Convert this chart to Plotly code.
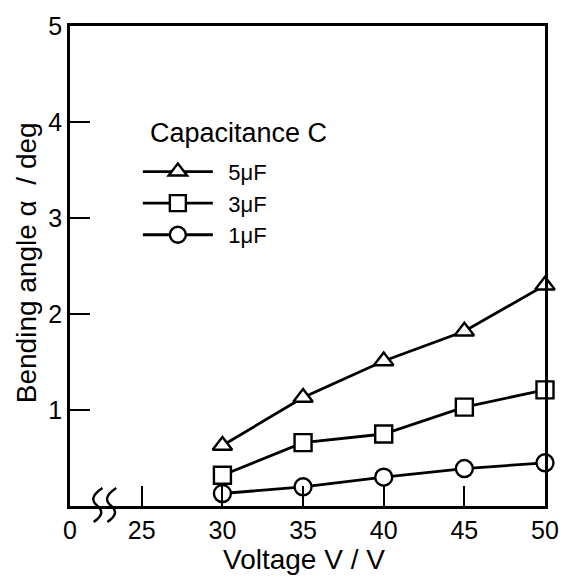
import plotly.graph_objects as go

# ---- data ----
voltage = [30, 35, 40, 45, 50]
series_names = ["5\u03bcF", "3\u03bcF", "1\u03bcF"]
angle_5uF = [0.63, 1.13, 1.51, 1.82, 2.30]
angle_3uF = [0.32, 0.66, 0.75, 1.03, 1.21]
angle_1uF = [0.13, 0.20, 0.30, 0.39, 0.45]
symbols = ["triangle-up", "square", "circle"]

x_break = 20.55  # axis position labelled "0" (broken axis)
x_tickvals = [x_break, 25, 30, 35, 40, 45, 50]
x_ticktext = ["0", "25", "30", "35", "40", "45", "50"]
y_tickvals = [1, 2, 3, 4, 5]
y_ticktext = ["1", "2", "3", "4", "5"]

W, H = 571, 578
ML, MR, MT, MB = 70, 18, 25, 72
PW, PH = W - ML - MR, H - MT - MB

def px(x):
    return (x - ML) / PW

def py(y):
    return (H - MB - y) / PH

FONT = "Liberation Sans, Arial, sans-serif"

fig = go.Figure()
for name, vals, sym in zip(series_names, [angle_5uF, angle_3uF, angle_1uF], symbols):
    fig.add_trace(go.Scatter(
        x=voltage, y=vals, name="\u00a0\u2009" + name, mode="lines+markers",
        line=dict(color="black", width=2.8),
        marker=dict(symbol=sym, size=17, color="white",
                    line=dict(color="black", width=2.4)),
        cliponaxis=False,
    ))

axis_common = dict(showline=True, linecolor="black", linewidth=2.6, mirror=True,
                   showgrid=False, zeroline=False, ticks="inside", ticklen=20,
                   tickwidth=2, tickcolor="black",
                   tickfont=dict(family=FONT, size=25, color="black"))

fig.update_layout(
    width=W, height=H,
    margin=dict(l=ML, r=MR, t=MT, b=MB),
    paper_bgcolor="white", plot_bgcolor="white",
    font=dict(family=FONT, color="black"),
    xaxis=dict(range=[x_break, 50], tickmode="array", tickvals=x_tickvals,
               ticktext=x_ticktext, **axis_common),
    yaxis=dict(range=[0, 5], tickmode="array", tickvals=y_tickvals,
               ticktext=y_ticktext, **axis_common),
    showlegend=True,
    legend=dict(x=px(139), y=py(150), xanchor="left", yanchor="top",
                bgcolor="rgba(0,0,0,0)", itemwidth=70,
                font=dict(family=FONT, size=22, color="black")),
)

# legend heading
fig.add_annotation(text="Capacitance C", xref="paper", yref="paper",
                   x=px(149), y=py(132), xanchor="left", yanchor="middle",
                   showarrow=False, font=dict(family=FONT, size=27, color="black"))

fig.add_annotation(text="Voltage V / V", xref="paper", yref="paper",
                   x=px(308), y=py(560), xanchor="center", yanchor="middle",
                   showarrow=False, font=dict(family=FONT, size=28, color="black"))
fig.add_annotation(text="Bending angle \u03b1  / deg", xref="paper", yref="paper",
                   x=px(26), y=py(262), xanchor="center", yanchor="middle",
                   textangle=-90, showarrow=False,
                   font=dict(family=FONT, size=28, color="black"))

# axis-break squiggles
for dx in (0, 14):
    pts = [(103 + dx, 488), (91 + dx, 496), (92 + dx, 501), (98 + dx, 506),
           (104 + dx, 511), (103 + dx, 516), (94 + dx, 522)]
    p = [(px(a), py(b)) for a, b in pts]
    path = "M {} {} C {} {}, {} {}, {} {} C {} {}, {} {}, {} {}".format(
        *[v for xy in p for v in xy])
    fig.add_shape(type="path", path=path, xref="paper", yref="paper",
                  line=dict(color="black", width=2.4))

fig.write_html("out.html")
